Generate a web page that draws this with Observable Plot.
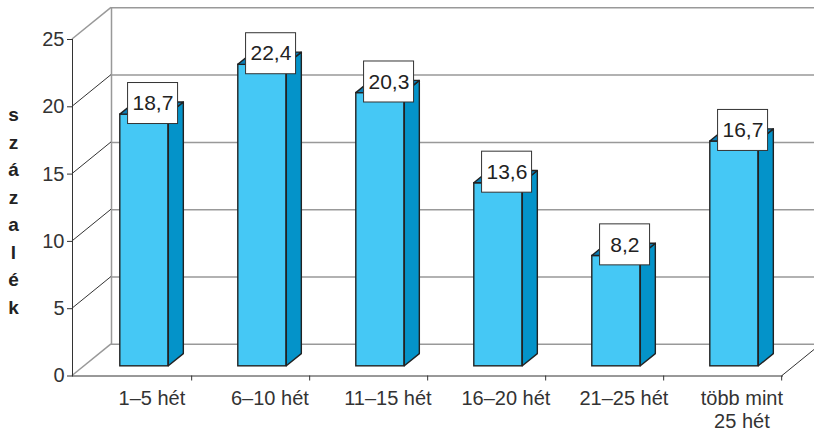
<!DOCTYPE html>
<html><head><meta charset="utf-8">
<script src="https://cdn.jsdelivr.net/npm/d3@7"></script>
<script src="https://cdn.jsdelivr.net/npm/@observablehq/plot@0.6"></script>
<style>body{margin:0;background:#fff} svg{display:block}</style>
</head><body><div id="chart"></div>
<script>
const categories = ["1–5 hét", "6–10 hét", "11–15 hét", "16–20 hét", "21–25 hét", "több mint\n25 hét"];
const values = [18.7, 22.4, 20.3, 13.6, 8.2, 16.7];
const yTicks = [0, 5, 10, 15, 20, 25];
const yTitle = "százalék";

const data = categories.map((c, i) => ({cat: c, val: values[i]}));

const W = 814, H = 433, ML = 72, MR = 32, MT = 39, MB = 57.5;
const DX = 39, DY = -31.7;          // full depth of the 3D box (pixels)
const D0 = 0.305, D1 = 0.69;        // bar depth range (fraction)
const BAR = 0.41;                   // bar width as fraction of band
const bw = (W - ML - MR) / categories.length;
const inset = bw * (1 - BAR) / 2;
const fdx = DX * D0, fdy = DY * D0;
const sdx = DX * (D1 - D0), sdy = DY * (D1 - D0);

const fmt = v => String(v).replace(".", ",");

// diagonal lines from the front axis to the back wall
const diagonals = Plot.ruleY(yTicks, {y: d => d, render(index, scales, values, dims) {
  const g = d3.create("svg:g").attr("fill", "none");
  for (const i of index) {
    const v = yTicks[i];
    const y = scales.y(v);
    const edge = v === yTicks[0] || v === yTicks[yTicks.length - 1];
    g.append("line").attr("x1", ML).attr("y1", y).attr("x2", ML + DX).attr("y2", y + DY)
      .attr("stroke", edge ? "#999" : "#333").attr("stroke-width", edge ? 1.5 : 1);
  }
  const y0 = scales.y(0), xr = dims.width - dims.marginRight;
  g.append("line").attr("x1", xr).attr("y1", y0).attr("x2", xr + DX).attr("y2", y0 + DY)
    .attr("stroke", "#333").attr("stroke-width", 1);
  return g.node();
}});

// side and top faces of the bars
const faces = Plot.barY(data, {x: "cat", y: "val", render(index, scales) {
  const g = d3.create("svg:g").attr("stroke", "#222").attr("stroke-width", 1.4).attr("stroke-linejoin", "round");
  const y0 = scales.y(0);
  for (const i of index) {
    const d = data[i];
    const xl = scales.x(d.cat) + inset + fdx, xr = scales.x(d.cat) + bw - inset + fdx;
    const yt = scales.y(d.val) + fdy, yb = y0 + fdy;
    g.append("path").attr("fill", "#0493C9")
      .attr("d", `M${xr},${yb}L${xr},${yt}L${xr + sdx},${yt + sdy}L${xr + sdx},${yb + sdy}Z`);
    g.append("path").attr("fill", "#0A7DB6")
      .attr("d", `M${xl},${yt}L${xr},${yt}L${xr + sdx},${yt + sdy}L${xl + sdx},${yt + sdy}Z`);
  }
  return g.node();
}});

const LDX = bw / 2 + fdx + sdx / 2 + 1, LDY = fdy + sdy / 2 - 5;

// white label boxes
const boxes = Plot.barY(data, {x: "cat", y: "val", render(index, scales) {
  const g = d3.create("svg:g");
  for (const i of index) {
    const d = data[i];
    const cx = scales.x(d.cat) + LDX, cy = scales.y(d.val) + LDY;
    g.append("rect").attr("x", cx - 25).attr("y", cy - 20.5).attr("width", 50).attr("height", 41)
      .attr("fill", "white").attr("stroke", "#333").attr("stroke-width", 1);
  }
  return g.node();
}});

const chart = Plot.plot({
  width: W, height: H,
  marginLeft: ML, marginRight: MR, marginTop: MT, marginBottom: MB,
  style: {fontFamily: "'Liberation Sans', Arial, sans-serif", background: "white"},
  x: {domain: categories, padding: 0, label: null},
  y: {domain: [0, 25], label: null},
  marks: [
    Plot.ruleY(yTicks, {dx: DX, dy: DY, stroke: "#999", strokeWidth: 1.5}),
    Plot.frame({anchor: "left", dx: DX, dy: DY, stroke: "#999", strokeWidth: 1.5}),
    diagonals,
    Plot.frame({anchor: "left", stroke: "#333"}),
    Plot.frame({anchor: "bottom", stroke: "#333"}),
    Plot.axisY({ticks: yTicks, tickSize: 5, tickPadding: 3, fontSize: 20, color: "#333"}),
    Plot.axisX({tickSize: 5, dx: bw / 2, tickFormat: () => "", color: "#333"}),
    Plot.axisX({tickSize: 0, tickPadding: 13, dx: fdx + sdx / 2, fontSize: 20, lineHeight: 1.15, color: "#333"}),
    Plot.barY(data, {x: "cat", y: "val", insetLeft: inset, insetRight: inset, dx: fdx, dy: fdy,
      fill: "#45C8F5", stroke: "#222", strokeWidth: 1.4}),
    faces,
    boxes,
    Plot.text(data, {x: "cat", y: "val", text: d => fmt(d.val), dx: LDX - bw / 2, dy: LDY,
      fontSize: 21, fill: "#222"}),
    Plot.text([yTitle.split("").join("\n")], {frameAnchor: "left", dx: -59, dy: 1, fontWeight: "bold",
      fontSize: 19, lineHeight: 1.45, fill: "#222", textAnchor: "middle"})
  ]
});
document.getElementById("chart").appendChild(chart);
</script>
</body></html>
